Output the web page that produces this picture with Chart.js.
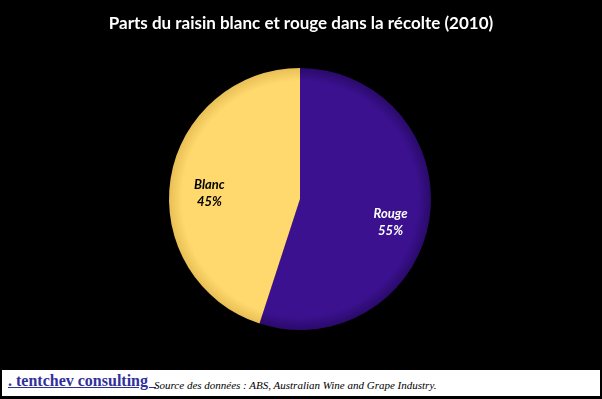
<!DOCTYPE html>
<html><head><meta charset="utf-8">
<script src="https://cdn.jsdelivr.net/npm/chart.js@4"></script>
<style>
html,body{margin:0;padding:0;background:#000;}
#wrap{position:relative;width:602px;height:399px;background:#000;overflow:hidden;}
canvas{position:absolute;left:0;top:0;}
#title{position:absolute;left:0;top:12px;width:602px;text-align:center;color:#fff;font:bold 17px Lato, "Open Sans", sans-serif;}
#footer{position:absolute;left:2px;top:370px;width:598px;height:26px;background:#fff;white-space:nowrap;}
#brand{position:absolute;left:6px;top:2px;font:bold 16px "Liberation Serif","DejaVu Serif",serif;color:#30309a;text-decoration:underline;}
#src{position:absolute;left:152px;top:9px;font:italic 11px "Liberation Serif","DejaVu Serif",serif;color:#000;}
</style></head>
<body>
<div id="wrap">
<canvas id="c" width="602" height="399"></canvas>
<div id="title">Parts du raisin blanc et rouge dans la récolte (2010)</div>
<div id="footer"><span id="brand">. tentchev consulting&nbsp;&nbsp;</span><span id="src">Source des données : ABS, Australian Wine and Grape Industry.</span></div>
</div>
<script>
const categories = ["Rouge", "Blanc"];
const shares = [55, 45];
const sliceColors = ["#3b118f", "#ffd96e"];
const sliceEdgeColors = ["#2a0a6a", "#e8bf55"];
const labelColors = ["#ffffff", "#000000"];

const labelPlugin = {
  id: 'sliceLabels',
  afterDatasetsDraw(chart) {
    const ctx = chart.ctx;
    const meta = chart.getDatasetMeta(0);
    meta.data.forEach((arc, i) => {
      const mid = (arc.startAngle + arc.endAngle) / 2;
      const r = arc.outerRadius * 0.7;
      const x = arc.x + Math.cos(mid) * r;
      const y = arc.y + Math.sin(mid) * r + 8;
      ctx.save();
      ctx.fillStyle = labelColors[i];
      ctx.font = 'italic bold 13px Lato, "Open Sans", sans-serif';
      ctx.textAlign = 'center';
      ctx.textBaseline = 'middle';
      ctx.fillText(categories[i], x, y - 8);
      ctx.fillText(shares[i] + '%', x, y + 9);
      ctx.restore();
    });
  }
};

function fillFor(context) {
  const i = context.dataIndex;
  const chart = context.chart;
  const area = chart.chartArea;
  if (!area) return sliceColors[i];
  const cx = (area.left + area.right) / 2, cy = (area.top + area.bottom) / 2;
  const r = Math.min(area.right - area.left, area.bottom - area.top) / 2;
  const g = chart.ctx.createRadialGradient(cx, cy, 0, cx, cy, r);
  g.addColorStop(0, sliceColors[i]);
  g.addColorStop(0.9, sliceColors[i]);
  g.addColorStop(1, sliceEdgeColors[i]);
  return g;
}

new Chart(document.getElementById('c'), {
  type: 'pie',
  data: {
    labels: categories,
    datasets: [{
      data: shares,
      backgroundColor: fillFor,
      borderColor: '#000000',
      borderWidth: 0
    }]
  },
  options: {
    responsive: false,
    animation: false,
    layout: { padding: { top: 68, bottom: 69, left: 169, right: 171 } },
    plugins: {
      legend: { display: false },
      title: { display: false },
      tooltip: { enabled: false }
    }
  },
  plugins: [labelPlugin]
});
</script>
</body></html>
